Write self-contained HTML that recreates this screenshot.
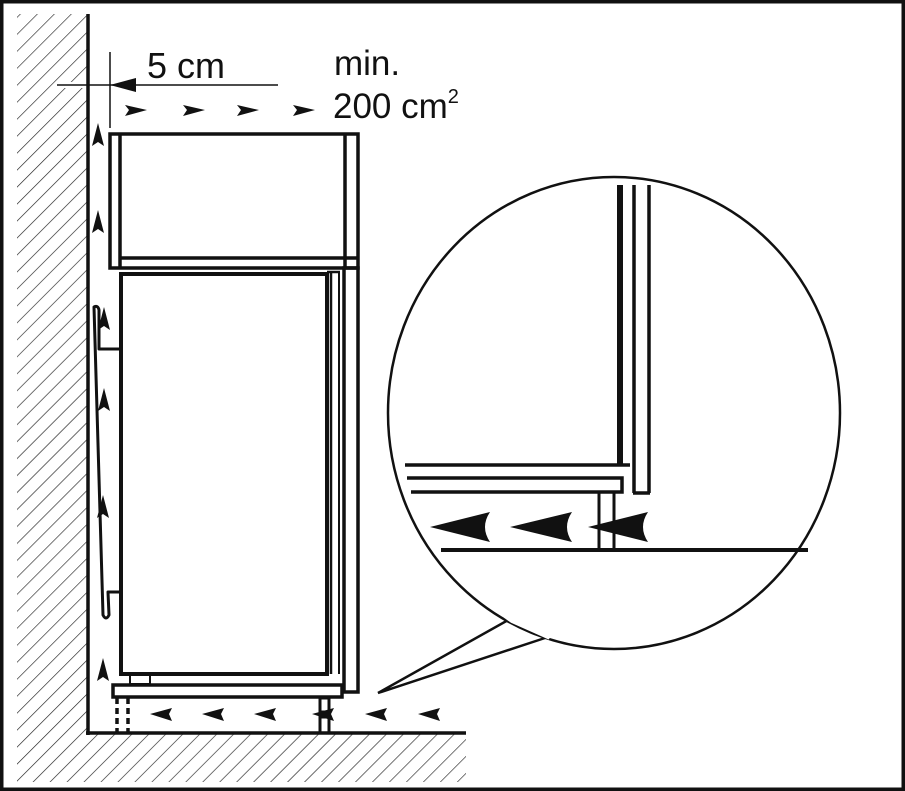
<!DOCTYPE html>
<html><head><meta charset="utf-8"><style>html,body{margin:0;padding:0;background:#fff}svg{display:block}</style></head>
<body>
<svg width="905" height="791" viewBox="0 0 905 791" xmlns="http://www.w3.org/2000/svg">
<defs>
<pattern id="h" width="12" height="12" patternUnits="userSpaceOnUse" patternTransform="rotate(45)">
<line x1="0" y1="0" x2="0" y2="12" stroke="#222" stroke-width="1.3"/>
</pattern>
</defs>
<rect x="1.5" y="1.5" width="902" height="788" fill="#fff" stroke="#111" stroke-width="4"/>
<rect x="17" y="14" width="70" height="720" fill="url(#h)"/>
<rect x="17" y="734" width="449" height="48" fill="url(#h)"/>
<rect x="58" y="82" width="30" height="6" fill="#fff"/>
<line x1="88" y1="14" x2="88" y2="735" stroke="#111" stroke-width="3.5"/>
<line x1="86" y1="733" x2="466" y2="733" stroke="#111" stroke-width="3.5"/>
<line x1="57" y1="85" x2="278" y2="85" stroke="#111" stroke-width="1.5"/>
<line x1="110" y1="52" x2="110" y2="128" stroke="#111" stroke-width="1.5"/>
<polygon points="110,85 136,78 136,92" fill="#111"/>
<g font-family="Liberation Sans, sans-serif" fill="#111">
<text x="147" y="78" font-size="36">5 cm</text>
<text x="334" y="75" font-size="35">min.</text>
<text x="333" y="118" font-size="35">200 cm<tspan font-size="20" dy="-15">2</tspan></text>
<text x="664" y="471" font-size="35">min.</text>
<text x="663" y="514" font-size="35">200 cm<tspan font-size="20" dy="-15">2</tspan></text>
</g>
<g fill="#111">
<polygon points="125,105 147,110 125,116 129,110"/>
<polygon points="183,105 205,110 183,116 187,110"/>
<polygon points="237,105 259,110 237,116 241,110"/>
<polygon points="293,105 315,110 293,116 297,110"/>
<polygon points="98,123 92,146 98,142 104,146"/>
<polygon points="98,210 92,233 98,229 104,233"/>
<polygon points="104,307 98,330 104,326 110,330"/>
<polygon points="104,388 98,411 104,407 110,411"/>
<polygon points="103,495 97,518 103,514 109,518"/>
<polygon points="103,658 97,681 103,677 109,681"/>
<polygon points="150,714 172,708 169,714 172,721"/>
<polygon points="202,714 224,708 221,714 224,721"/>
<polygon points="254,714 276,708 273,714 276,721"/>
<polygon points="312,714 334,708 331,714 334,721"/>
<polygon points="365,714 387,708 384,714 387,721"/>
<polygon points="418,714 440,708 437,714 440,721"/>
</g>
<g fill="none" stroke="#111">
<rect x="110" y="134" width="248" height="134" stroke-width="3.5"/>
<line x1="120" y1="134" x2="120" y2="268" stroke-width="3.5"/>
<line x1="345" y1="134" x2="345" y2="268" stroke-width="3.5"/>
<line x1="120" y1="258" x2="358" y2="258" stroke-width="3.5"/>
<rect x="121" y="274" width="206" height="400" stroke-width="4"/>
<line x1="331" y1="272" x2="331" y2="674" stroke-width="2.5"/>
<line x1="327" y1="272" x2="340" y2="272" stroke-width="2.5"/>
<line x1="339" y1="272" x2="339" y2="674" stroke-width="2"/>
<rect x="344" y="268" width="14" height="424" stroke-width="3.5"/>
<path d="M120,349 L99,349 L99,310 Q98,305 94,307 L103,615 Q106,621 109,615 L108,592 L120,592" stroke-width="3" stroke-linejoin="round"/>
<rect x="130" y="675" width="20" height="9" stroke-width="2"/>
<rect x="113" y="685" width="229" height="12" stroke-width="3.5"/>
<line x1="117" y1="698" x2="117" y2="733" stroke-width="3.5" stroke-dasharray="6,4"/>
<line x1="128" y1="698" x2="128" y2="733" stroke-width="3.5" stroke-dasharray="6,4"/>
<rect x="320" y="698" width="9" height="14" stroke-width="3"/>
<rect x="320" y="717" width="9" height="16" stroke-width="3"/>
</g>
<path d="M510,619 L378,693 L548,637" fill="#fff" stroke="#111" stroke-width="2.5" stroke-linejoin="miter"/>
<ellipse cx="614" cy="413" rx="226" ry="236" fill="#fff" stroke="#111" stroke-width="2.5"/>
<path d="M505,616 L512,621 L548,637 L552,632" fill="none" stroke="#fff" stroke-width="4"/>
<g stroke="#111" fill="none">
<line x1="620" y1="185" x2="620" y2="465" stroke-width="6"/>
<line x1="634" y1="185" x2="634" y2="493" stroke-width="3.5"/>
<line x1="649" y1="185" x2="649" y2="493" stroke-width="3.5"/>
<line x1="633" y1="493" x2="650" y2="493" stroke-width="3.5"/>
<line x1="405" y1="465" x2="630" y2="465" stroke-width="3.5"/>
<polyline points="407,478 622,478 622,492 411,492" stroke-width="3.5"/>
<line x1="599" y1="492" x2="599" y2="550" stroke-width="3"/>
<line x1="614" y1="492" x2="614" y2="550" stroke-width="3"/>
<line x1="441" y1="550" x2="808" y2="550" stroke-width="4"/>
</g>
<g fill="#111">
<path d="M430,527 L490,512 Q480,527 490,542 Z"/>
<path d="M510,527 L572,512 Q562,527 572,542 Z"/>
<path d="M588,527 L648,512 Q638,527 648,542 Z"/>
</g>
</svg>
</body></html>
